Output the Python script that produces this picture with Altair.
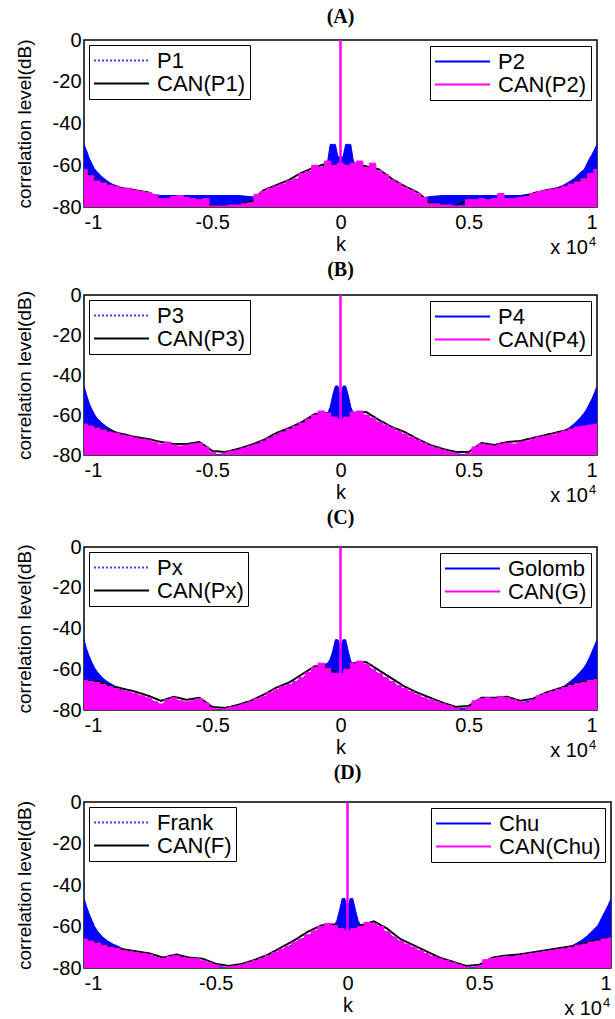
import altair as alt
import pandas as pd

FONT = "Liberation Sans"
BLUE = "#0000ff"
MAGENTA = "#ff00ff"

# ---- sampling grids (k in units of 10^4) ----
k_env = [-1.0, -0.975, -0.95, -0.925, -0.9, -0.875, -0.85, -0.825, -0.8, -0.775,
         -0.75, -0.725, -0.7, -0.675, -0.65, -0.625, -0.6, -0.575, -0.55, -0.525,
         -0.5, -0.475, -0.45, -0.425, -0.4, -0.375, -0.35, -0.325, -0.3, -0.275,
         -0.25, -0.225, -0.2, -0.175, -0.15, -0.125, -0.1, -0.075, -0.05, -0.025,
         0.0,
         0.025, 0.05, 0.075, 0.1, 0.125, 0.15, 0.175, 0.2, 0.225, 0.25,
         0.275, 0.3, 0.325, 0.35, 0.375, 0.4, 0.425, 0.45, 0.475, 0.5,
         0.525, 0.55, 0.575, 0.6, 0.625, 0.65, 0.675, 0.7, 0.725, 0.75,
         0.775, 0.8, 0.825, 0.85, 0.875, 0.9, 0.925, 0.95, 0.975, 1.0]
k_can = [-1.0, -0.95, -0.9, -0.85, -0.8, -0.75, -0.7, -0.65, -0.6, -0.55,
         -0.5, -0.45, -0.4, -0.35, -0.3, -0.25, -0.2, -0.15, -0.1, -0.05,
         0.0,
         0.05, 0.1, 0.15, 0.2, 0.25, 0.3, 0.35, 0.4, 0.45, 0.5,
         0.55, 0.6, 0.65, 0.7, 0.75, 0.8, 0.85, 0.9, 0.95, 1.0]
k_blue = [-1.0, -0.99, -0.98, -0.97, -0.96, -0.95, -0.93, -0.91, -0.89, -0.87, -0.85,
          -0.8, -0.75, -0.7, -0.65, -0.6, -0.55, -0.5, -0.45, -0.4, -0.35, -0.3, -0.25, -0.2, -0.15, -0.1,
          -0.07, -0.05, -0.04, -0.03, -0.02, -0.01,
          0.0,
          0.01, 0.02, 0.03, 0.04, 0.05,
          0.07,
          0.1, 0.15, 0.2, 0.25, 0.3, 0.35, 0.4, 0.45, 0.5, 0.55, 0.6, 0.65, 0.7, 0.75, 0.8,
          0.85, 0.87, 0.89, 0.91, 0.93, 0.95, 0.96, 0.97, 0.98, 0.99, 1.0]
k_peak = [0.0]
peak_db = [0.0]

titles = ["(A)", "(B)", "(C)", "(D)"]
left_names = [["P1", "CAN(P1)"], ["P3", "CAN(P3)"], ["Px", "CAN(Px)"], ["Frank", "CAN(F)"]]
right_names = [["P2", "CAN(P2)"], ["P4", "CAN(P4)"], ["Golomb", "CAN(G)"], ["Chu", "CAN(Chu)"]]

x_ticks = [-1, -0.5, 0, 0.5, 1]
y_ticks = [0, -20, -40, -60, -80]

# ---- panel A ----
blue_A = [-50, -53, -56.5, -59, -61.5, -63, -65.5, -67.5, -69, -70, -71,
          -72.5, -73.5, -74.5, -74.5, -74.5, -74.5, -74.5, -74.5, -74.5, -75, -76, -72, -69, -66, -63,
          -61, -58, -50, -50, -50, -56,
          -56,
          -56, -50, -50, -50, -58,
          -61,
          -63, -66, -69, -72, -76, -75, -74.5, -74.5, -74.5, -74.5, -74.5, -74.5, -74.5, -73.5, -72.5,
          -70.5, -69.5, -68, -66.5, -64, -62, -59.5, -57, -55, -52.5, -50]
mag_A = [-62, -65, -67.5, -68.5, -69.5, -70, -71, -71, -72, -72.5,
         -73, -74, -76, -76, -75, -74.5, -75.5, -76, -76.5, -76,
         -79.5, -79.5, -79.5, -79, -79, -78.5, -78, -74, -72.5, -71,
         -70, -69, -67.5, -66.5, -64, -63, -60, -61, -58, -60,
         -59,
         -60, -59, -58, -61, -59, -62.5, -64.5, -67, -68.5, -70.5,
         -72, -73.5, -75.5, -78.5, -78.5, -79, -79, -79.5, -79.5, -76.5,
         -76.5, -76, -76.5, -76, -73.5, -76, -76, -75.5, -75, -73.5,
         -72.5, -72, -71.5, -71, -70, -69, -68, -66.5, -64, -62]
can_A = [-62.5, -67.5, -69.5, -71, -72, -73, -76.5, -76, -76, -76.5,
         -79.5, -79.5, -79, -77.5, -72, -69.5, -67, -63.5, -61, -59,
         -61,
         -59.5, -60.5, -62, -66.5, -70, -73, -78, -79, -79.5, -76.5,
         -76.5, -76.5, -76.5, -76, -73.5, -72, -71, -69, -66.5, -62.5]

# ---- panel B ----
blue_B = [-45.5, -50, -54, -57, -59.5, -61.5, -64, -66, -67.5, -69, -70,
          -72, -74, -75.5, -76.5, -77, -77.5, -80, -79.5, -78, -76, -73, -70, -67, -63.5, -60,
          -59, -59, -56, -50, -45.5, -45.5,
          -52,
          -45.5, -45.5, -50, -56, -59,
          -59,
          -60.5, -64, -67.5, -70.5, -73.5, -76, -78, -79.5, -80, -77.5, -77, -76.5, -75.5, -74, -72,
          -69.5, -68, -66.5, -64.5, -62, -59, -57, -54.5, -52, -49, -45.5]
mag_B = [-64.5, -65.5, -66.5, -67.5, -68.5, -69, -70, -70.5, -71.5, -72,
         -72.5, -73.5, -74.5, -73.5, -75, -75.5, -75, -74.5, -74, -76,
         -78.5, -80, -79, -78, -77.5, -76.5, -75.5, -74.5, -73, -71.5,
         -70, -68.5, -67, -65.5, -64, -62, -60, -58, -59, -61,
         -62,
         -61, -58.5, -58, -60, -61.5, -63.5, -65, -66.5, -68, -69.5,
         -71, -72.5, -74, -75.5, -76.5, -77.5, -78.5, -79, -80, -79,
         -76, -74.5, -75, -75.5, -74.5, -74, -74.5, -73.5, -73, -72,
         -71, -70.5, -70, -69, -68, -67, -66, -65.5, -65, -64.5]
can_B = [-65, -66.5, -68, -69.5, -71, -72, -73.5, -74.5, -74.5, -73.5,
         -78, -78.5, -77, -75, -72.5, -69, -66.5, -63.5, -59.5, -59,
         -63.5,
         -59, -58.5, -62.5, -66, -68.5, -72, -75, -77, -78.5, -78.5,
         -74, -75, -73.5, -73, -71.5, -70, -68.5, -67, -66, -65]

# ---- panel C ----
blue_C = [-45.5, -50, -53.5, -56.5, -59, -61, -64, -66, -67.5, -69, -70.5,
          -72.5, -74.5, -77.5, -75, -76.5, -75, -79.5, -80, -78.5, -76.5, -74, -70.5, -68, -64.5, -60,
          -58, -57, -55, -51, -45.5, -45.5,
          -50,
          -45.5, -45.5, -51, -56, -57.5,
          -57,
          -58, -62.5, -66.5, -70, -73, -75.5, -77.5, -79.5, -79, -75, -75, -74.5, -76.5, -75.5, -72.5,
          -70, -68.5, -66.5, -64.5, -62, -59, -57, -54.5, -51.5, -48.5, -45.5]
mag_C = [-65.5, -66, -66.5, -67.5, -68.5, -69.5, -70.5, -71, -72, -73,
         -74, -76, -77, -75, -74, -75.5, -76, -75.5, -74.5, -76.5,
         -79, -80, -79.5, -78.5, -78, -77, -76, -74.5, -73.5, -71.5,
         -70, -68.5, -67.5, -66, -64, -61.5, -59, -57, -59.5, -62,
         -62,
         -60, -57, -56, -57.5, -60, -62, -64, -66, -68, -69.5,
         -71, -72.5, -74, -75, -76, -77, -78, -79, -80, -78.5,
         -75.5, -74.5, -74, -74.5, -73.5, -74, -75, -76, -76.5, -75,
         -73, -72, -71, -70, -69, -68, -67, -66.5, -65.5, -65]
can_C = [-65.5, -66, -68, -69.5, -71, -73, -75.5, -73.5, -75, -74,
         -78.5, -79, -77.5, -75.5, -72.5, -69, -66.5, -62.5, -58.5, -59,
         -63.5,
         -57, -56.5, -60.5, -64.5, -68.5, -71.5, -74, -76.5, -78.5, -78,
         -74, -74, -73.5, -75.5, -74.5, -71.5, -69.5, -67.5, -66, -65]

# ---- panel D ----
blue_D = [-46.5, -50.5, -54, -57, -60, -62, -65, -67, -68.5, -69.5, -71,
          -72.5, -74, -76, -74.5, -76, -77, -79, -80, -79, -77, -74.5, -71.5, -68, -64.5, -61,
          -59.5, -59.5, -57, -52, -46.5, -46.5,
          -52,
          -46.5, -46.5, -52, -57, -59.5,
          -59,
          -59, -63, -67.5, -70.5, -73.5, -76, -78, -80, -79.5, -76.5, -75, -74.5, -73.5, -72.5, -71.5,
          -69.5, -68, -66.5, -64.5, -62, -59.5, -57, -54.5, -52, -49.5, -46.5]
mag_D = [-66, -67, -68, -69, -70, -70.5, -71.5, -72, -72.5, -73,
         -73.5, -75, -75.5, -74.5, -74, -75, -75.5, -75.5, -76.5, -77.5,
         -78.5, -80, -79.5, -79, -78.5, -77.5, -76.5, -75.5, -74, -72.5,
         -71, -69.5, -67.5, -66, -64, -62, -60, -58.5, -59.5, -61,
         -62,
         -61, -60, -58, -58.5, -60, -62.5, -65, -67, -68.5, -70,
         -71.5, -73, -74.5, -75.5, -76.5, -77.5, -78.5, -79.5, -80, -79,
         -76, -75.5, -75, -74.5, -74.5, -74, -73.5, -73, -72.5, -72,
         -71.5, -71, -70.5, -70, -69, -68.5, -67.5, -67, -66, -65.5]
can_D = [-66.5, -68, -70, -71, -72, -73, -75, -73.5, -75, -75.5,
         -78, -79, -78, -76, -73.5, -70, -66.5, -62.5, -59.5, -59,
         -63.5,
         -59.5, -57.5, -61, -66, -69, -72, -75, -77, -79, -78.5,
         -75, -74, -73.5, -72.5, -71.5, -70.5, -69.5, -68, -66.5, -65.5]

blues = [blue_A, blue_B, blue_C, blue_D]
mags = [mag_A, mag_B, mag_C, mag_D]
cans = [can_A, can_B, can_C, can_D]
widths = [513, 513, 513, 527]
heights = [167, 160, 163, 166]
title_offsets = [3, 5, 9, 9]

for b, m, c in zip(blues, mags, cans):
    assert len(b) == len(k_blue) and len(m) == len(k_env) and len(c) == len(k_can)


def panel(i):
    w, h = widths[i], heights[i]
    ln, rn = left_names[i], right_names[i]
    df_b = pd.DataFrame({"k": k_blue, "db": blues[i], "s": rn[0]})
    df_m = pd.DataFrame({"k": k_env, "db": mags[i], "s": rn[1]})
    df_c = pd.DataFrame({"k": k_can, "db": cans[i], "s": ln[1]})
    df_p = pd.DataFrame({"k": k_peak, "db": peak_db})

    x = alt.X("k:Q", scale=alt.Scale(domain=[-1, 1], nice=False, zero=False),
              axis=alt.Axis(values=x_ticks, labelExpr="'' + datum.value", title="k",
                            titlePadding=2))
    y = alt.Y("db:Q", scale=alt.Scale(domain=[-80, 0], nice=False),
              axis=alt.Axis(values=y_ticks, labelExpr="'' + datum.value", labelPadding=3,
                            title="correlation level(dB)", titleFontSize=19, titlePadding=18))
    base = alt.datum(-80)

    color_enc = alt.Color("s:N", scale=alt.Scale(domain=rn, range=[BLUE, MAGENTA]),
                          legend=alt.Legend(title=None, orient="top-right", offset=6))
    stroke_enc = alt.Stroke("s:N", scale=alt.Scale(domain=ln, range=["#3d3dff", "#000000"]),
                            legend=alt.Legend(title=None, orient="top-left", offset=5))
    dash_enc = alt.StrokeDash("s:N", scale=alt.Scale(domain=ln, range=[[2, 2], [1, 0]]),
                              legend=alt.Legend(title=None, orient="top-left", offset=5))

    blue_area = alt.Chart(df_b).mark_area(color=BLUE, clip=True).encode(x=x, y=y, y2=base)
    blue_line = alt.Chart(df_b).mark_line(strokeWidth=1, clip=True).encode(x=x, y=y, color=color_enc)
    can_line = alt.Chart(df_c).mark_line(strokeWidth=2, clip=True).encode(
        x=x, y=y, stroke=stroke_enc, strokeDash=dash_enc)
    mag_area = alt.Chart(df_m).mark_area(color=MAGENTA, interpolate="step", clip=True).encode(
        x=x, y=y, y2=base)
    mag_line = alt.Chart(df_m).mark_line(strokeWidth=1, interpolate="step", clip=True).encode(
        x=x, y=y, color=color_enc)
    spike = alt.Chart(df_p).mark_rule(color=MAGENTA, strokeWidth=2.5, clip=True).encode(
        x=x, y=y, y2=base)
    exp_txt = alt.Chart(df_p).mark_text(font=FONT, fontSize=20, align="right", baseline="alphabetic",
                                        color="black").encode(
        x=alt.value(w - 9), y=alt.value(h + 47), text=alt.value("x 10"))
    exp_sup = alt.Chart(df_p).mark_text(font=FONT, fontSize=13, align="left", baseline="alphabetic",
                                        color="black").encode(
        x=alt.value(w - 8), y=alt.value(h + 39), text=alt.value("4"))

    return alt.layer(blue_area, blue_line, can_line, mag_area, mag_line, spike, exp_txt, exp_sup).properties(
        width=w, height=h,
        title=alt.TitleParams(titles[i], font="Liberation Serif", fontSize=20, fontWeight="bold",
                              anchor="middle", offset=title_offsets[i], color="black"))


chart = alt.vconcat(*[panel(i) for i in range(4)], spacing=0).resolve_scale(
    color="independent", stroke="independent", strokeDash="independent"
).resolve_legend(
    color="independent", stroke="independent", strokeDash="independent"
).properties(
    padding={"left": 14, "top": 6, "right": 0, "bottom": 0},
    background="white",
).configure_view(
    stroke="black", strokeWidth=1.5
).configure_axis(
    labelFont=FONT, titleFont=FONT, labelFontSize=20, titleFontSize=20, titleFontWeight="normal",
    labelColor="black", titleColor="black", domain=False, ticks=False, grid=False, labelPadding=5
).configure_legend(
    labelFont=FONT, labelFontSize=22, labelColor="black", symbolType="stroke", symbolSize=3025,
    symbolStrokeWidth=2, strokeColor="black", fillColor="white", padding=4, clipHeight=23,
    labelOffset=7, rowPadding=0, labelLimit=0, cornerRadius=0
)

chart.save("out.html", embed_options={"renderer": "svg", "actions": False})
